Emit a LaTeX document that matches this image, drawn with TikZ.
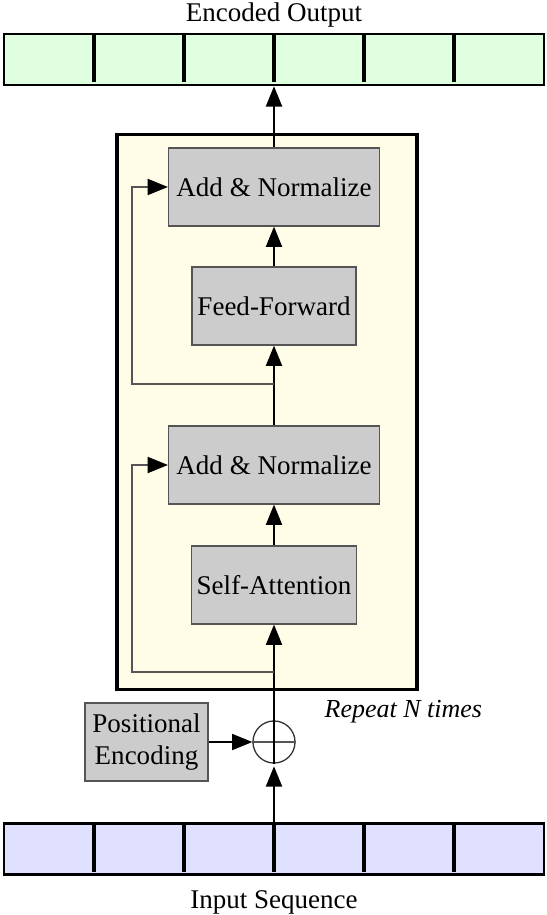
\documentclass[tikz,border=0pt]{standalone}
\usepackage{fontspec}
\setmainfont{Liberation Serif}
\usepackage{tikz}
\usetikzlibrary{positioning,arrows.meta}

\definecolor{outgreen}{HTML}{E0FFE0}
\definecolor{inblue}{HTML}{E0E0FF}
\definecolor{layerfill}{HTML}{FFFDE8}
\definecolor{blockfill}{HTML}{CCCCCC}
\definecolor{blockline}{HTML}{555555}

\tikzset{
  seqbar/.style={draw, line width=1pt, minimum width=207.9pt, minimum height=19.6pt, inner sep=0pt},
  cellsep/.style={line width=1.6pt},
  layerbox/.style={draw, fill=layerfill, line width=1.5pt, minimum width=115.5pt, minimum height=213.7pt, inner sep=0pt},
  block/.style={draw=blockline, fill=blockfill, line width=0.5pt, minimum height=30pt, align=center, inner sep=2pt},
  wideblock/.style={block, minimum width=81.2pt},
  narrowblock/.style={block, minimum width=63.1pt},
  sumnode/.style={circle, draw=black!80, line width=0.5pt, minimum size=16.2pt, inner sep=0pt},
  flow/.style={-{Triangle[length=7.8pt,width=6.2pt]}, line width=0.6pt},
  resid/.style={-{Triangle[length=7.8pt,width=6.2pt,color=black]}, line width=0.6pt, draw=blockline},
}

\begin{document}
\begin{tikzpicture}[x=0.385pt, y=-0.385pt, font=\fontsize{10.4pt}{12.5pt}\selectfont]
  \useasboundingbox (0,0) rectangle (546,915);

  % output sequence
  \node at (274,15) (outlabel) {Encoded Output};
  \node[seqbar, fill=outgreen] (outseq) at (274,59.5) {};
  \foreach \x in {94,184,274,364,454}
    \draw[cellsep] (\x,34) -- (\x,82);

  % encoder layer
  \node[layerbox] (layer) at (267,412) {};
  \node[below=0pt of layer.south east, xshift=-6pt, font=\itshape] (rep) {Repeat N times};

  \node[wideblock] (an1) at (274,187) {Add \& Normalize};
  \node[narrowblock] (ff) at (274,306) {Feed-Forward};
  \node[wideblock] (an2) at (274,465) {Add \& Normalize};
  \node[narrowblock] (sa) at (274,585) {Self-Attention};

  % input side
  \node[block, minimum width=47.4pt] (pe) at (146.5,742) {Positional\\Encoding};
  \node[sumnode] (sum) at (274,742) {};
  \draw[blockline, line width=0.5pt] (sum.west) -- (sum.east);
  \draw[line width=0.6pt] (sum.north) -- (sum.south);

  \node[seqbar, fill=inblue] (inseq) at (274,849) {};
  \foreach \x in {94,184,274,364,454}
    \draw[cellsep] (\x,823) -- (\x,872);
  \node at (274,902) (inlabel) {Input Sequence};

  % main path
  \draw[flow, shorten >=1pt] (inseq.north) -- (sum.south);
  \draw[flow] (pe.east) -- (sum.west);
  \draw[flow] (sum.north) -- (sa.south);
  \draw[flow] (sa.north) -- (an2.south);
  \draw[flow] (an2.north) -- (ff.south);
  \draw[flow] (ff.north) -- (an1.south);
  \draw[flow] (an1.north) -- (outseq.south);

  % residual connections
  \coordinate (skip1) at (274,672);
  \coordinate (skip2) at (274,384);
  \draw[resid] (skip1) -- ++(-142,0) |- (an2.west);
  \draw[resid] (skip2) -- ++(-142,0) |- (an1.west);
\end{tikzpicture}
\end{document}
